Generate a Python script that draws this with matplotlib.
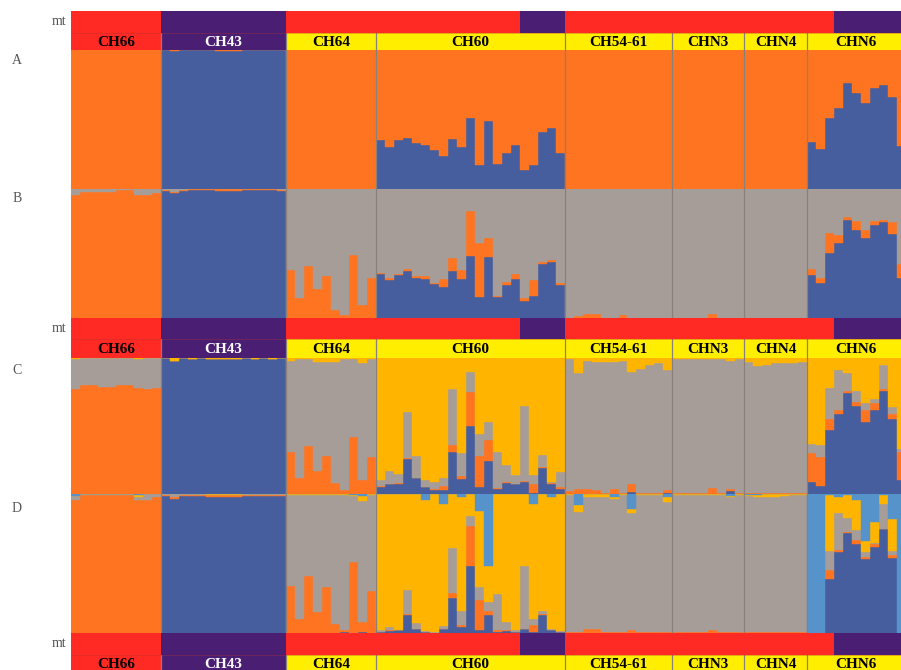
import matplotlib
matplotlib.use("Agg")
import matplotlib.pyplot as plt
import numpy as np

# ---------------- data ----------------
pops = ["CH66", "CH43", "CH64", "CH60", "CH54-61", "CHN3", "CHN4", "CHN6"]
pop_n = [10, 14, 10, 21, 12, 8, 7, 11]
pop_fill = ["red", "purple", "yellow", "yellow", "yellow", "yellow", "yellow", "yellow"]
pop_text = ["black", "white", "black", "black", "black", "black", "black", "black"]
mt_counts = [10, 14, 26, 5, 30, 8]
mt_hap = ["red", "purple", "red", "purple", "red", "purple"]

# Panel A (K=2): blue, orange = rest
A_blue = [
    0, 0, 0, 0, 0, 0, 0, 0, 0, 0,
    1, .99, 1, 1, 1, 1, .995, .995, .995, 1, 1, 1, 1, 1,
    0, 0, 0, 0, 0, 0, 0, 0, 0, 0,
    .35, .30, .35, .37, .33, .32, .28, .24, .36, .30, .51, .17, .49, .18, .26, .32, .14, .17, .41, .44, .26,
    0, 0, 0, 0, 0, 0, 0, 0, 0, 0, 0, 0,
    0, 0, 0, 0, 0, 0, 0, 0,
    0, 0, 0, 0, 0, 0, 0,
    .34, .29, .51, .58, .76, .69, .62, .73, .75, .66, .31,
]

# Panel B (K=3): blue, orange, gray = rest
B_blue = [
    0, 0, 0, 0, 0, 0, 0, 0, 0, 0,
    .985, .97, .985, .99, .99, .99, .985, .985, .985, .99, .99, .995, .99, .985,
    0, 0, 0, 0, 0, 0, 0, 0, 0, 0,
    .34, .29, .33, .36, .31, .30, .26, .24, .36, .30, .48, .16, .47, .16, .25, .30, .13, .17, .42, .43, .25,
    0, 0, 0, 0, 0, 0, 0, 0, 0, 0, 0, 0,
    0, 0, 0, 0, 0, 0, 0, 0,
    0, 0, 0, 0, 0, 0, 0,
    .33, .27, .50, .58, .76, .68, .62, .72, .74, .65, .31,
]
B_orange = [
    .95, .98, .98, .98, .98, .99, .99, .95, .95, .965,
    .01, .01, .01, .01, .01, .01, .015, .015, .015, .01, .01, .005, .01, .01,
    .37, .15, .40, .22, .32, .06, .02, .49, .10, .31,
    .01, .02, .01, .02, .01, .02, .01, .06, .10, .07, .35, .42, .15, .005, .03, .04, .02, .12, .01, .02, .02,
    0, .01, .03, .03, 0, 0, .02, 0, 0, 0, 0, 0,
    0, 0, 0, 0, .03, 0, 0, 0,
    0, 0, 0, 0, 0, 0, 0,
    .05, .04, .16, .06, .02, .07, .06, .03, .02, .09, .11,
]

# Panel C (K=4): blue, orange, gray, yellow = rest
C_blue = [
    0, 0, 0, 0, 0, 0, 0, 0, 0, 0,
    1, .98, 1, .995, 1, .995, .99, .99, .995, 1, .995, 1, .995, 1,
    0, 0, 0, 0, 0, 0, 0, 0, 0, 0,
    .05, .07, .074, .26, .12, .05, .03, .03, .31, .11, .50, .05, .24, .04, .08, .07, .09, .01, .19, .07, .04,
    0, 0, 0, 0, 0, 0, 0, .015, 0, 0, 0, .01,
    0, 0, 0, 0, 0, 0, .02, 0,
    0, 0, 0, 0, 0, 0, 0,
    .09, .06, .47, .59, .74, .65, .53, .62, .76, .55, .10,
]
C_orange = [
    .77, .80, .80, .79, .79, .80, .80, .78, .77, .78,
    0, 0, 0, 0, 0, 0, 0, 0, 0, 0, 0, 0, 0, 0,
    .31, .12, .35, .17, .28, .08, .03, .42, .105, .27,
    .01, .005, .006, .005, 0, .005, .005, .03, .05, .02, .25, .23, .16, .005, .005, .005, .005, .065, .01, .01, .01,
    .02, .04, .04, .03, .01, .04, .01, .06, .01, .01, .01, .02,
    .005, .005, .005, .005, .045, .005, .02, .005,
    .01, .01, .01, .01, .01, .01, .01,
    .21, .21, .08, .03, .02, .03, .09, .05, .01, .04, .21,
]
C_gray = [
    .22, .20, .20, .21, .21, .20, .20, .21, .23, .22,
    0, 0, 0, 0, 0, 0, 0, 0, 0, 0, 0, 0, 0, 0,
    .67, .87, .64, .80, .69, .89, .96, .57, .855, .72,
    .04, .095, .07, .335, .16, .045, .055, .06, .41, .17, .15, .16, .13, .265, .125, .065, .555, .065, .09, .01, .11,
    .97, .85, .94, .94, .96, .93, .97, .825, .91, .94, .95, .88,
    .985, .99, .99, .985, .945, .985, .94, .99,
    .96, .93, .94, .95, .95, .95, .96,
    .07, .09, .23, .29, .13, .08, .05, .03, .18, .05, .02,
]

# Panel D (K=5): blue, orange, gray, yellow, light blue = rest
D_blue = [
    0, 0, 0, 0, 0, 0, 0, 0, 0, 0,
    .985, .965, .985, .985, .985, .98, .98, .98, .98, .985, .985, .985, .985, .985,
    0, 0, 0, 0, 0, 0, .01, 0, .01, 0,
    .01, .015, .02, .13, .03, .01, 0, .03, .25, .04, .48, .02, .13, .01, .015, .01, .03, .01, .13, .025, .01,
    0, 0, 0, 0, 0, 0, 0, 0, 0, 0, 0, 0,
    0, 0, 0, 0, 0, 0, 0, 0,
    0, 0, 0, 0, 0, 0, 0,
    0, 0, .39, .58, .72, .64, .53, .62, .75, .54, 0,
]
D_orange = [
    .955, .99, .99, .99, .99, .99, .99, .96, .96, .98,
    .01, .01, .01, .01, .01, .01, .01, .01, .01, .01, .01, .01, .01, .01,
    .34, .10, .41, .15, .33, .065, .01, .51, .07, .30,
    0, .005, 0, .01, 0, 0, 0, 0, .04, .02, .29, .22, .03, .01, .005, 0, 0, .045, .01, 0, 0,
    .01, .01, .03, .03, .005, .01, .005, .02, .005, .005, .005, .01,
    .005, .005, .005, .005, .02, .005, .01, .005,
    .005, .005, .005, .005, .005, .005, .005,
    0, 0, .06, .02, .01, .03, .02, .02, 0, .02, 0,
]
D_gray = [
    .03, .01, .01, .01, .01, .01, .01, .02, .04, .02,
    .005, .025, .005, .005, .005, 0, 0, 0, 0, .005, .005, .005, .005, .005,
    .65, .895, .58, .84, .66, .925, .975, .475, .87, .69,
    .01, .025, .005, .17, .04, .005, .01, .02, .32, .10, .07, .09, .06, .26, .06, .015, .45, .045, .02, .005, .005,
    .98, .86, .95, .95, .975, .955, .985, .845, .985, .985, .985, .935,
    .99, .99, .99, .99, .975, .99, .97, .99,
    .98, .975, .975, .975, .98, .985, .985,
    0, 0, .14, .26, .10, .07, .03, .01, .18, .03, 0,
]
D_yellow = [
    0, 0, 0, 0, 0, 0, 0, .01, 0, 0,
    0, 0, 0, 0, 0, .01, .01, .01, .01, 0, 0, 0, 0, 0,
    .01, .005, .01, .01, .01, .01, .005, .01, .035, .01,
    .98, .955, .975, .69, .93, .945, .99, .88, .39, .82, .16, .55, .26, .72, .92, .975, .52, .83, .84, .95, .985,
    .01, .05, .02, .02, .02, .01, .01, .025, .01, .01, .01, .03,
    .005, .005, .005, .005, .005, .005, .005, .005,
    .01, .015, .02, .02, .015, .01, .01,
    0, 0, .40, .116, .16, .22, .08, .15, .06, .23, 0,
]

# ---------------- style ----------------
ORANGE = "#FF7420"
BLUE = "#465E9E"
GRAY = "#A69C98"
YELLOW = "#FFB400"
LBLUE = "#5693CB"
HDR = {"red": "#FF2A24", "purple": "#4A1E72", "yellow": "#FFEE00"}
SEP = "#8A807A"

W, H = 901, 670
fig = plt.figure(figsize=(W / 100, H / 100), dpi=100)
fig.patch.set_facecolor("white")

X0 = 71
NB = sum(pop_n)
px_per_bar = (807 - X0) / 82.0
XMAX = (W - X0) / px_per_bar
bounds = np.cumsum([0] + pop_n)


def add_ax(top, bottom):
    ax = fig.add_axes([X0 / W, 1 - bottom / H, (W - X0) / W, (bottom - top) / H])
    ax.set_xlim(0, XMAX)
    ax.set_ylim(0, 1)
    ax.set_axis_off()
    return ax


def panel(top, bottom, comps, colors):
    ax = add_ax(top, bottom)
    x = np.arange(NB)
    arrs = [np.array(c, dtype=float) for c in comps]
    rest = np.clip(1 - np.sum(arrs, axis=0), 0, None)
    arrs.append(rest)
    base = np.zeros(NB)
    for a, col in zip(arrs, colors):
        ax.bar(x, a, bottom=base, width=1.0, align="edge", color=col,
               edgecolor=col, linewidth=0.3)
        base = base + a
    for b in bounds[1:-1]:
        ax.axvline(b, color=SEP, lw=0.9)
    return ax


def header(top):
    # mt row
    axm = add_ax(top, top + 21.5)
    st = 0
    for n, h in zip(mt_counts, mt_hap):
        axm.add_patch(plt.Rectangle((st, 0), n, 1, color=HDR[h], lw=0))
        st += n
    axm.text(-0.55, 0.5, "mt", transform=axm.transData, ha="right", va="center",
             fontsize=10, family="Liberation Serif", color="#555555", clip_on=False)
    # population label row
    axl = add_ax(top + 21.5, top + 40.5)
    for i, (p, n) in enumerate(zip(pops, pop_n)):
        s = bounds[i]
        axl.add_patch(plt.Rectangle((s, 0), n, 1, color=HDR[pop_fill[i]], lw=0))
        axl.text(s + n / 2, 0.45, p, ha="center", va="center", fontsize=11,
                 family="Liberation Serif", weight="bold", color=pop_text[i])
    for b in bounds[1:-1]:
        axl.axvline(b, color=SEP, lw=0.9)
    axl.axhline(1, color="#B03030", lw=0.5, alpha=0.5)


header(11)
panel(50, 189, [A_blue], [BLUE, ORANGE])
panel(189, 317.5, [B_blue, B_orange], [BLUE, ORANGE, GRAY])
header(317.5)
panel(358, 494, [C_blue, C_orange, C_gray], [BLUE, ORANGE, GRAY, YELLOW])
panel(494, 633, [D_blue, D_orange, D_gray, D_yellow], [BLUE, ORANGE, GRAY, YELLOW, LBLUE])
header(633)

for lab, yy in [("A", 60), ("B", 199), ("C", 370), ("D", 508)]:
    fig.text(17 / W, 1 - yy / H, lab, ha="center", va="center", fontsize=10,
             family="Liberation Serif", color="#555555")

fig.savefig("out.png", dpi=100, facecolor="white")
